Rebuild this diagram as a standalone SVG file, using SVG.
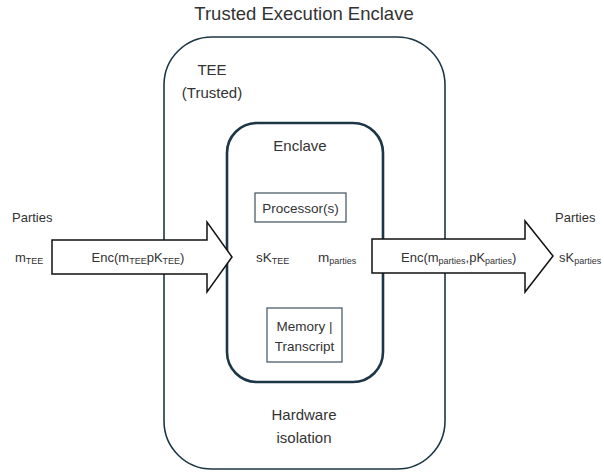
<svg xmlns="http://www.w3.org/2000/svg" width="604" height="473" viewBox="0 0 604 473">
<style>
text{font-family:"Liberation Sans",Arial,sans-serif;fill:#333;}
.t15{font-size:15px;}
.t13{font-size:13.5px;}
.t12{font-size:13px;}
.s{font-size:9px;}
.box{fill:#fff;stroke:#3d5260;stroke-width:1.2;}
.arrow{fill:#fff;stroke:#111;stroke-width:1.5;stroke-linejoin:miter;}
</style>
<rect width="604" height="473" fill="#fff"/>
<text x="304" y="20" text-anchor="middle" style="font-size:18.5px">Trusted Execution Enclave</text>
<g id="tee">
<rect x="164" y="37" width="281" height="432" rx="48" ry="48" fill="#fff" stroke="#1d3646" stroke-width="1.6"/>
<text x="212" y="75" text-anchor="middle" class="t15">TEE</text>
<text x="212" y="98" text-anchor="middle" class="t15">(Trusted)</text>
<text x="304" y="420" text-anchor="middle" class="t15">Hardware</text>
<text x="304" y="443" text-anchor="middle" class="t15">isolation</text>
</g>
<g id="enclave">
<rect x="227" y="123" width="156" height="259" rx="30" ry="30" fill="#fff" stroke="#1d3646" stroke-width="2.6"/>
<text x="300" y="151" text-anchor="middle" class="t15">Enclave</text>
<text x="256" y="262" class="t13">sK<tspan class="s" dy="2">TEE</tspan></text>
<text x="318" y="262" class="t13">m<tspan class="s" dy="2">parties</tspan></text>
</g>
<g id="processor">
<rect class="box" x="255" y="193" width="91" height="29"/>
<text x="300.5" y="212.5" text-anchor="middle" class="t13">Processor(s)</text>
</g>
<g id="memory">
<rect class="box" x="267" y="308" width="75" height="54"/>
<text x="304.5" y="331" text-anchor="middle" class="t13">Memory |</text>
<text x="304.5" y="351" text-anchor="middle" class="t13">Transcript</text>
</g>
<g id="left-parties">
<text x="12" y="222" class="t12">Parties</text>
<text x="15" y="262" class="t12">m<tspan class="s" dy="2">TEE</tspan></text>
</g>
<g id="right-parties">
<text x="555" y="222" class="t12">Parties</text>
<text x="559" y="262" class="t12">sK<tspan class="s" dy="2">parties</tspan></text>
</g>
<g id="connectors">
<path class="arrow" d="M52,240 H207 V222 L232,257 L207,292 V274 H52 Z"/>
<text x="138" y="262" text-anchor="middle" class="t12">Enc(m<tspan class="s" dy="2">TEE</tspan><tspan dy="-2">pK</tspan><tspan class="s" dy="2">TEE</tspan><tspan dy="-2">)</tspan></text>
<path class="arrow" d="M372,239 H525 V221 L553,256 L525,292 V273 H372 Z"/>
<text x="401" y="262" class="t12">Enc(m<tspan class="s" dy="2">parties</tspan><tspan dy="-2">,pK</tspan><tspan class="s" dy="2">parties</tspan><tspan dy="-2">)</tspan></text>
</g>
</svg>
